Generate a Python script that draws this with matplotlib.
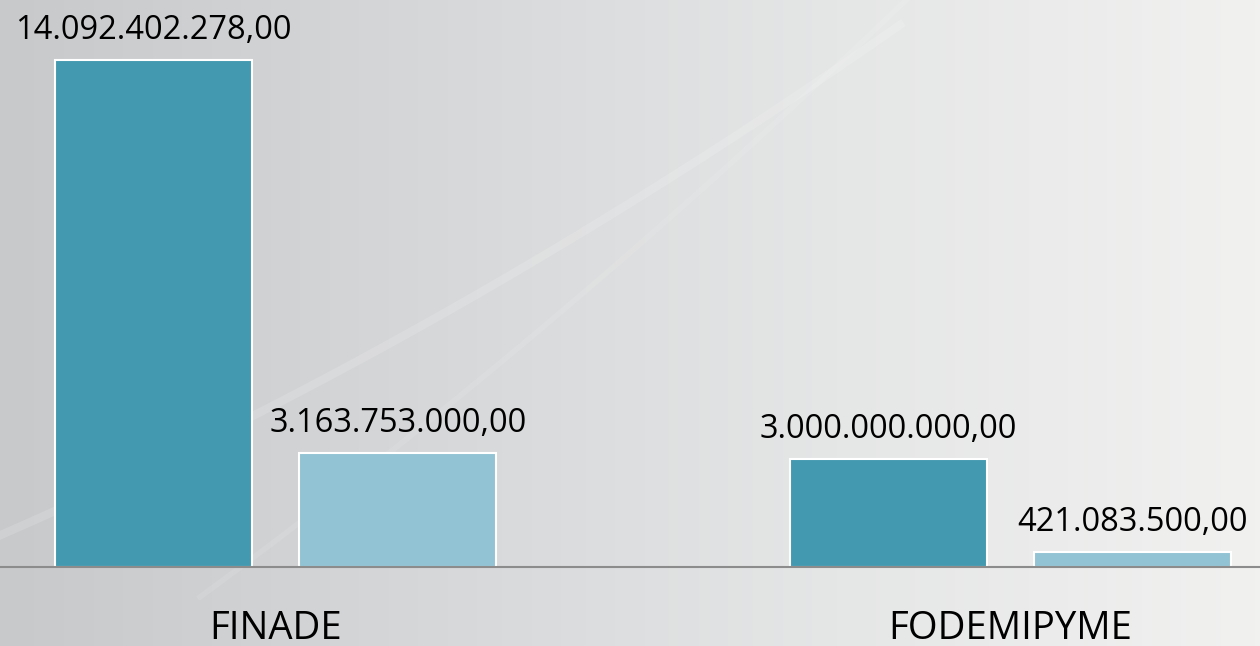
import numpy as np
import matplotlib.pyplot as plt
from matplotlib.colors import LinearSegmentedColormap

# data
categories = ['FINADE', 'FODEMIPYME']
serie1 = [14092402278.00, 3000000000.00]
serie2 = [3163753000.00, 421083500.00]
labels1 = ['14.092.402.278,00', '3.000.000.000,00']
labels2 = ['3.163.753.000,00', '421.083.500,00']

plt.rcParams['font.family'] = ['Open Sans', 'DejaVu Sans']

fig = plt.figure(figsize=(12.6, 6.46), dpi=100)

# background gradient + faint swooshes (pixel coords, y down)
bg = fig.add_axes([0, 0, 1, 1], zorder=0)
cmap = LinearSegmentedColormap.from_list('bg', ['#c8c9cb', '#d6d7d9', '#e5e6e6', '#f1f1f0'])
grad = np.linspace(0, 1, 256).reshape(1, -1)
bg.imshow(grad, aspect='auto', cmap=cmap, extent=[0, 1260, 646, 0])
swA = np.polyfit([0, 330, 600, 850], [535, 377, 220, 60], 2)
xa = np.linspace(0, 900, 200)
bg.plot(xa, np.polyval(swA, xa), color='white', lw=6, alpha=0.14)
swB = np.polyfit([250, 500, 800], [560, 363, 100], 2)
xb = np.linspace(200, 920, 200)
bg.plot(xb, np.polyval(swB, xb), color='white', lw=4, alpha=0.09)
bg.set_xlim(0, 1260)
bg.set_ylim(646, 0)
bg.axis('off')

ax = fig.add_axes([0, 79 / 646, 1, 567 / 646], zorder=1)
ax.patch.set_alpha(0)

x = np.arange(len(categories))
w = 0.268
off = 0.1663
b1 = ax.bar(x - off, serie1, w, color='#4299b0', edgecolor='white', linewidth=1.5)
b2 = ax.bar(x + off, serie2, w, color='#92c3d5', edgecolor='white', linewidth=1.5)

for bars, labs in [(b1, labels1), (b2, labels2)]:
    for r, lab in zip(bars, labs):
        ax.text(r.get_x() + r.get_width() / 2, r.get_height() + 0.36e9, lab,
                ha='center', va='bottom', fontsize=23.5, color='black')

for xi, c in zip(x, categories):
    ax.text(xi, -1.2e9, c, ha='center', va='top', fontsize=27.5, color='black')

ax.set_xlim(-0.3748, 1.3395)
ax.set_ylim(0, 15.76e9)
ax.axhline(0, color='#8c8c8c', lw=1.5, clip_on=False)
for s in ax.spines.values():
    s.set_visible(False)
ax.set_xticks([])
ax.set_yticks([])

fig.savefig('out.png', dpi=100)
